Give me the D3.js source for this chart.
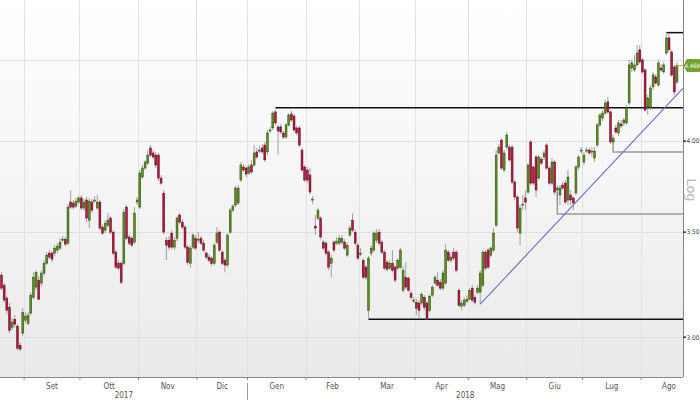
<!DOCTYPE html>
<html><head><meta charset="utf-8">
<script src="https://cdn.jsdelivr.net/npm/d3@7"></script>
<style>html,body{margin:0;padding:0;background:#fff;} svg{display:block;}</style>
</head><body><svg id="c" width="700" height="400"></svg>
<script>
// ---- data ----
const leadDays = 9; // trading days of Aug 2017 shown
const monthLabels = ["Set","Ott","Nov","Dic","Gen","Feb","Mar","Apr","Mag","Giu","Lug","Ago"];
const monthDays = [21,22,22,19,22,20,21,20,22,21,22,14];
const yearLabels = ["2017","2018"];
const yearBreakMonth = 4; // "Gen"
const yGrid = [3.0, 3.5, 4.0, 4.5];
const yLabels = [3.0, 3.5, 4.0];
const lastPriceLabel = "4.469";

const open = [3.286,3.238,3.177,3.135,3.044,3.080,3.049,2.965,3.018,3.076,3.062,3.108,3.181,3.229,3.262,3.248,3.296,3.344,3.394,3.394,
3.394,3.409,3.419,3.459,3.464,3.444,3.658,3.653,3.636,3.658,3.680,3.626,3.669,3.562,3.658,3.663,3.626,3.658,3.526,3.510,
3.536,3.573,3.500,3.399,3.344,3.344,3.344,3.631,3.475,3.469,3.449,3.658,3.631,3.795,3.845,3.873,3.960,3.931,3.919,3.919,
3.789,3.706,3.459,3.459,3.495,3.424,3.469,3.589,3.552,3.526,3.424,3.344,3.424,3.469,3.459,3.469,3.444,3.394,3.374,3.369,
3.344,3.449,3.500,3.399,3.359,3.335,3.500,3.615,3.642,3.653,3.778,3.851,3.845,3.817,3.862,3.862,3.937,3.942,3.960,3.977,
3.937,4.060,4.078,4.175,4.084,4.084,4.048,4.024,4.096,4.162,4.150,4.078,4.078,3.948,3.851,3.834,3.806,3.669,3.531,3.573,
3.573,3.449,3.444,3.399,3.344,3.449,3.444,3.444,3.449,3.449,3.384,3.485,3.562,3.500,3.434,3.389,3.359,3.325,3.121,3.394,
3.409,3.459,3.500,3.449,3.399,3.349,3.320,3.344,3.325,3.320,3.325,3.214,3.276,3.272,3.200,3.163,3.158,3.154,3.154,3.181,
3.154,3.121,3.191,3.248,3.262,3.252,3.224,3.248,3.399,3.359,3.399,3.399,3.214,3.140,3.144,3.163,3.172,3.224,3.181,3.205,
3.205,3.238,3.399,3.409,3.384,3.409,3.536,3.931,4.006,3.834,3.965,3.965,3.965,3.767,3.685,3.495,3.642,3.680,3.712,3.995,
3.851,3.908,3.789,3.896,3.908,3.977,3.845,3.761,3.879,3.723,3.696,3.750,3.761,3.669,3.696,3.680,3.707,3.851,3.942,3.879,
3.942,3.948,3.937,3.902,3.977,4.096,4.138,4.168,4.237,4.175,3.995,4.078,4.048,4.102,4.108,4.108,4.230,4.453,4.440,4.473,
4.573,4.506,4.440,4.205,4.205,4.331,4.395,4.343,4.453,4.427,4.552,4.654,4.559,4.460,4.362];

const high = [3.300,3.248,3.186,3.154,3.085,3.099,3.058,2.978,3.130,3.112,3.112,3.205,3.300,3.310,3.281,3.310,3.359,3.399,3.409,3.404,
3.434,3.444,3.469,3.480,3.475,3.647,3.723,3.669,3.680,3.690,3.696,3.674,3.685,3.680,3.674,3.690,3.696,3.669,3.541,3.562,
3.599,3.583,3.510,3.409,3.359,3.354,3.620,3.642,3.490,3.480,3.631,3.685,3.834,3.862,3.891,3.948,3.977,3.948,3.937,3.931,
3.806,3.723,3.475,3.480,3.510,3.475,3.583,3.599,3.568,3.536,3.434,3.434,3.495,3.485,3.500,3.480,3.459,3.404,3.389,3.379,
3.444,3.526,3.510,3.409,3.369,3.495,3.626,3.647,3.745,3.750,3.879,3.868,3.856,3.868,3.891,3.977,3.960,3.971,3.983,3.995,
4.066,4.084,4.181,4.187,4.096,4.102,4.060,4.108,4.168,4.181,4.162,4.090,4.090,3.960,3.862,3.851,3.845,3.690,3.589,3.626,
3.583,3.459,3.454,3.409,3.384,3.459,3.475,3.485,3.485,3.464,3.449,3.536,3.599,3.515,3.444,3.419,3.369,3.335,3.379,3.434,
3.505,3.515,3.515,3.459,3.409,3.359,3.359,3.409,3.335,3.369,3.419,3.330,3.349,3.281,3.214,3.181,3.172,3.168,3.205,3.191,
3.163,3.195,3.238,3.286,3.300,3.267,3.310,3.439,3.409,3.389,3.419,3.409,3.224,3.168,3.181,3.191,3.224,3.238,3.191,3.238,
3.310,3.409,3.409,3.419,3.429,3.521,3.948,3.983,4.018,3.948,4.054,3.977,3.977,3.778,3.696,3.642,3.696,3.723,3.873,4.006,
3.862,3.919,3.919,3.908,3.948,3.989,3.856,3.902,3.891,3.750,3.750,3.767,3.778,3.834,3.723,3.690,3.862,3.919,3.965,3.937,
3.965,3.960,3.965,3.965,4.108,4.168,4.187,4.249,4.268,4.187,4.036,4.096,4.126,4.126,4.138,4.218,4.506,4.506,4.539,4.606,
4.606,4.519,4.453,4.280,4.343,4.427,4.414,4.506,4.479,4.493,4.681,4.688,4.573,4.473,4.493];

const low = [3.214,3.158,3.103,3.018,3.031,3.044,2.943,2.939,3.005,3.062,3.053,3.099,3.172,3.214,3.168,3.233,3.286,3.335,3.364,3.349,
3.379,3.394,3.409,3.449,3.429,3.434,3.620,3.620,3.626,3.647,3.615,3.610,3.552,3.521,3.599,3.653,3.615,3.510,3.485,3.495,
3.526,3.490,3.384,3.315,3.310,3.243,3.335,3.459,3.434,3.424,3.439,3.642,3.620,3.783,3.834,3.862,3.908,3.896,3.845,3.772,
3.750,3.490,3.359,3.409,3.414,3.409,3.454,3.541,3.515,3.414,3.335,3.320,3.414,3.409,3.444,3.434,3.399,3.364,3.349,3.330,
3.335,3.439,3.399,3.335,3.300,3.325,3.490,3.604,3.631,3.642,3.767,3.823,3.795,3.806,3.811,3.851,3.896,3.931,3.925,3.879,
3.919,4.048,4.066,4.096,3.919,4.042,4.012,4.012,4.084,4.114,4.054,4.036,3.965,3.823,3.767,3.761,3.701,3.647,3.485,3.562,
3.464,3.409,3.384,3.310,3.276,3.399,3.434,3.434,3.439,3.409,3.374,3.475,3.500,3.434,3.359,3.379,3.267,3.262,3.080,3.379,
3.399,3.444,3.434,3.389,3.310,3.305,3.310,3.300,3.252,3.310,3.315,3.205,3.219,3.205,3.168,3.154,3.099,3.085,3.144,3.121,
3.076,3.112,3.181,3.238,3.229,3.214,3.214,3.238,3.349,3.349,3.359,3.300,3.135,3.121,3.135,3.154,3.168,3.158,3.149,3.195,
3.149,3.229,3.310,3.315,3.374,3.399,3.526,3.919,3.834,3.823,3.948,3.879,3.756,3.669,3.500,3.434,3.615,3.615,3.701,3.750,
3.750,3.685,3.778,3.862,3.891,3.834,3.750,3.750,3.696,3.669,3.642,3.723,3.647,3.642,3.642,3.615,3.696,3.834,3.925,3.862,
3.931,3.919,3.908,3.879,3.965,4.084,4.120,4.156,4.162,3.983,3.983,4.042,4.030,4.078,4.090,4.096,4.218,4.427,4.427,4.460,
4.479,4.414,4.175,4.156,4.187,4.312,4.343,4.331,4.427,4.414,4.539,4.559,4.395,4.280,4.350];

const close = [3.224,3.168,3.121,3.031,3.067,3.058,2.952,2.948,3.112,3.094,3.099,3.191,3.276,3.300,3.172,3.296,3.344,3.384,3.374,3.364,
3.419,3.429,3.449,3.464,3.439,3.631,3.631,3.631,3.663,3.680,3.626,3.658,3.573,3.663,3.615,3.669,3.658,3.521,3.495,3.546,
3.562,3.500,3.394,3.325,3.320,3.252,3.604,3.469,3.444,3.434,3.599,3.669,3.817,3.845,3.879,3.919,3.919,3.908,3.862,3.789,
3.761,3.500,3.434,3.424,3.424,3.459,3.573,3.552,3.526,3.424,3.349,3.419,3.485,3.419,3.464,3.444,3.409,3.374,3.359,3.344,
3.434,3.495,3.409,3.344,3.335,3.485,3.615,3.636,3.734,3.734,3.862,3.834,3.811,3.851,3.823,3.931,3.908,3.948,3.937,3.891,
4.048,4.066,4.168,4.108,4.060,4.054,4.024,4.096,4.156,4.126,4.066,4.048,3.977,3.834,3.778,3.778,3.712,3.674,3.521,3.615,
3.475,3.419,3.394,3.325,3.369,3.409,3.454,3.469,3.469,3.419,3.434,3.521,3.510,3.444,3.369,3.394,3.276,3.276,3.369,3.419,
3.495,3.495,3.444,3.399,3.320,3.315,3.344,3.310,3.262,3.359,3.409,3.310,3.229,3.214,3.181,3.168,3.130,3.121,3.195,3.135,
3.085,3.186,3.229,3.276,3.238,3.224,3.296,3.409,3.359,3.374,3.369,3.310,3.144,3.154,3.168,3.172,3.214,3.168,3.158,3.224,
3.296,3.399,3.320,3.325,3.419,3.495,3.919,3.965,3.845,3.931,4.036,3.891,3.767,3.685,3.521,3.626,3.647,3.658,3.862,3.761,
3.761,3.723,3.908,3.873,3.931,3.845,3.761,3.879,3.712,3.734,3.734,3.734,3.658,3.795,3.669,3.653,3.851,3.908,3.948,3.919,
3.948,3.931,3.942,3.942,4.096,4.156,4.168,4.230,4.175,3.995,4.018,4.054,4.108,4.090,4.126,4.199,4.473,4.486,4.473,4.552,
4.493,4.427,4.187,4.261,4.324,4.408,4.356,4.486,4.440,4.473,4.654,4.573,4.408,4.299,4.469];

// annotations (index = trading-day position, price level)
const blackLevels = [{from:103, price:4.20},{from:250, price:4.69},{from:138, price:3.08}];
const greySteps = [{at:230, top:3.995, price:3.937},{at:209, top:3.712, price:3.594}];
const trendLine = [[180, 3.149],[256.3, 4.324]];

// ---- layout ----
const W = 700, H = 400, plotR = 683, plotB = 377;
const N = close.length;
const svg = d3.select("#c");
const x = d3.scaleLinear().domain([0, N-1]).range([1.5, 677]);
const xEdgeIdx = x.invert(plotR);
const y = d3.scaleLog().domain([2.83, 4.92]).range([plotB, 0]);

const defs = svg.append("defs");
const grad = defs.append("linearGradient").attr("id","bg").attr("x1",0).attr("y1",0).attr("x2",0).attr("y2",1);
grad.append("stop").attr("offset","0%").attr("stop-color","#ffffff");
grad.append("stop").attr("offset","100%").attr("stop-color","#eaeaea");
svg.append("rect").attr("width",W).attr("height",H).attr("fill","#fff");
svg.append("rect").attr("x",0).attr("y",0).attr("width",plotR).attr("height",plotB).attr("fill","url(#bg)");

// month boundaries
const starts = [];
let acc = leadDays;
monthDays.forEach(d => { starts.push(acc - 0.5); acc += d; });
const fontNarrow = "'Liberation Sans Narrow','DejaVu Sans Condensed','Arial Narrow',sans-serif";

// vertical grid
svg.append("g").selectAll("line").data(starts).join("line")
  .attr("x1", d => x(d)).attr("x2", d => x(d)).attr("y1", 0).attr("y2", plotB)
  .attr("stroke", "#e2e2e2").attr("stroke-width", 1).attr("shape-rendering","crispEdges");
// horizontal grid
svg.append("g").selectAll("line").data(yGrid).join("line")
  .attr("x1", 0).attr("x2", plotR).attr("y1", d => y(d)).attr("y2", d => y(d))
  .attr("stroke", "#dedede").attr("stroke-width", 1).attr("shape-rendering","crispEdges");

// annotation lines
const lines = svg.append("g");
blackLevels.forEach(b => {
  lines.append("line").attr("x1", x(b.from)).attr("x2", plotR).attr("y1", y(b.price)).attr("y2", y(b.price))
    .attr("stroke", "#111").attr("stroke-width", 1.5);
});
greySteps.forEach(g => {
  lines.append("path").attr("d", `M${x(g.at)},${y(g.top)}L${x(g.at)},${y(g.price)}L${plotR},${y(g.price)}`)
    .attr("fill","none").attr("stroke", "#9a9a9a").attr("stroke-width", 1.5);
});

// candles
const data = d3.range(N).map(i => ({i, o:open[i], h:high[i], l:low[i], c:close[i]}));
const bw = 1.9;
const cg = svg.append("g");
cg.selectAll("line").data(data).join("line")
  .attr("x1", d => x(d.i)).attr("x2", d => x(d.i))
  .attr("y1", d => y(d.h)).attr("y2", d => y(d.l))
  .attr("stroke", "#8c8c8c").attr("stroke-width", 0.8);
cg.selectAll("rect").data(data).join("rect")
  .attr("x", d => x(d.i) - bw/2).attr("width", bw)
  .attr("y", d => Math.min(y(d.o), y(d.c)))
  .attr("height", d => Math.max(1, Math.abs(y(d.o) - y(d.c))))
  .attr("fill", d => d.c >= d.o ? "#5e8f1f" : "#b5183d")
  .attr("stroke", d => d.c >= d.o ? "#2f4a0c" : "#5c0a1d").attr("stroke-width", 0.5);

// trend line
svg.append("line")
  .attr("x1", x(trendLine[0][0])).attr("y1", y(trendLine[0][1]))
  .attr("x2", x(trendLine[1][0])).attr("y2", y(trendLine[1][1]))
  .attr("stroke", "#6b6bc8").attr("stroke-width", 1.1);

// axes lines
svg.append("line").attr("x1",0).attr("x2",plotR).attr("y1",plotB+0.5).attr("y2",plotB+0.5).attr("stroke","#888");
svg.append("line").attr("x1",plotR+0.5).attr("x2",plotR+0.5).attr("y1",0).attr("y2",plotB).attr("stroke","#888");

// bottom ticks & labels
svg.append("g").selectAll("line").data(starts).join("line")
  .attr("x1", d => x(d)).attr("x2", d => x(d)).attr("y1", plotB).attr("y2", plotB+3)
  .attr("stroke","#888");
svg.append("line").attr("x1", x(starts[yearBreakMonth])).attr("x2", x(starts[yearBreakMonth]))
  .attr("y1", 383).attr("y2", 400).attr("stroke","#999");
svg.append("g").selectAll("text").data(monthLabels).join("text")
  .attr("x", (d,k) => k < monthLabels.length-1 ? x((starts[k]+starts[k+1])/2) : x(starts[k] + 10.5))
  .attr("y", 389).attr("text-anchor","middle")
  .attr("font-family", fontNarrow).attr("font-size", 8).attr("fill","#555").text(d => d);
const yearCenters = [x((-0.5 + starts[yearBreakMonth]) / 2), x((starts[yearBreakMonth] + xEdgeIdx) / 2)];
svg.append("g").selectAll("text").data(yearLabels).join("text")
  .attr("x", (d,k) => yearCenters[k]).attr("y", 398).attr("text-anchor","middle")
  .attr("font-family", fontNarrow).attr("font-size", 8).attr("fill","#555").text(d => d);

// right axis
const ra = svg.append("g");
ra.selectAll("line").data(yLabels).join("line")
  .attr("x1", plotR).attr("x2", plotR+3).attr("y1", d => y(d)).attr("y2", d => y(d))
  .attr("stroke","#333").attr("stroke-width",1.5);
ra.selectAll("text").data(yLabels).join("text")
  .attr("x", plotR+3.5).attr("y", d => y(d)).attr("dy","0.35em")
  .attr("font-family", fontNarrow).attr("font-size", 6.5).attr("fill","#444")
  .text(d => d3.format(".2f")(d));
svg.append("text").attr("transform", "translate(692,190) rotate(90)")
  .attr("text-anchor","middle").attr("dy","0.35em")
  .attr("font-family","'DejaVu Sans',sans-serif").attr("font-size", 13).attr("fill","#b4b4b4").text("Log");

// last price marker
const lastY = y(close[N-1]);
svg.append("line").attr("x1", x(N-1)).attr("x2", plotR+2).attr("y1", lastY).attr("y2", lastY)
  .attr("stroke","#e39b3c").attr("stroke-width",1);
svg.append("path")
  .attr("d", `M${plotR+1},${lastY} L${plotR+4},${lastY-6} L${W-1},${lastY-6} Q${W},${lastY-6} ${W},${lastY-5} L${W},${lastY+5} Q${W},${lastY+6} ${W-1},${lastY+6} L${plotR+4},${lastY+6} Z`)
  .attr("fill","#74a52c").attr("stroke","#4f7a18").attr("stroke-width",0.6);
svg.append("text").attr("x", 692.3).attr("y", lastY).attr("dy","0.35em").attr("text-anchor","middle")
  .attr("font-family", fontNarrow).attr("font-size", 6).attr("fill","#fff").text(lastPriceLabel);
</script></body></html>
